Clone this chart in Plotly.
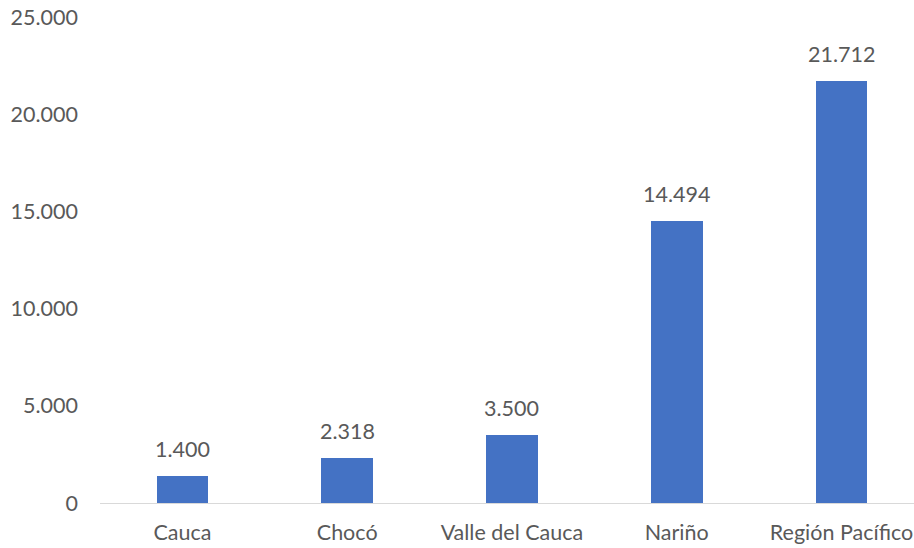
import plotly.graph_objects as go

categories = ["Cauca", "Chocó", "Valle del Cauca", "Nariño", "Región Pacífico"]
values = [1400, 2318, 3500, 14494, 21712]
tick_vals = [0, 5000, 10000, 15000, 20000, 25000]
tick_text = ["0", "5.000", "10.000", "15.000", "20.000", "25.000"]
label_text = ["1.400", "2.318", "3.500", "14.494", "21.712"]

font_color = "#595959"
fsize = 21.5
xs = list(range(len(categories)))
fig = go.Figure(go.Bar(
    x=xs, y=values,
    marker=dict(color="#4472C4", line=dict(width=0)),
    width=0.313,
))
for xi, v, t in zip(xs, values, label_text):
    fig.add_annotation(x=xi, y=v, text=t, showarrow=False, yanchor="bottom",
                       yshift=12, font=dict(size=fsize, color=font_color))
fig.update_layout(
    width=914, height=548,
    margin=dict(l=100, r=0, t=17, b=45),
    plot_bgcolor="white", paper_bgcolor="white",
    font=dict(family="Lato, Carlito, Calibri, sans-serif", size=fsize, color=font_color),
    showlegend=False,
    bargap=0,
)
fig.update_xaxes(
    tickvals=xs, ticktext=categories, automargin=False, ticklabeloverflow="allow",
    range=[-0.5, 4.44], showgrid=False, zeroline=False,
    showline=True, linecolor="#d9d9d9", linewidth=1.3,
    ticks="", ticklabelstandoff=10, tickfont=dict(size=fsize, color=font_color),
)
fig.update_yaxes(
    range=[0, 25000], tickvals=tick_vals, ticktext=tick_text, automargin=False,
    ticklabeloverflow="allow",
    showgrid=False, zeroline=False, showline=False, ticks="",
    ticklabelstandoff=21, tickfont=dict(size=fsize, color=font_color),
)
fig.write_html("out.html",
               config={"displayModeBar": False},
               post_script="document.body.style.margin='0px';document.body.style.overflow='hidden';")
